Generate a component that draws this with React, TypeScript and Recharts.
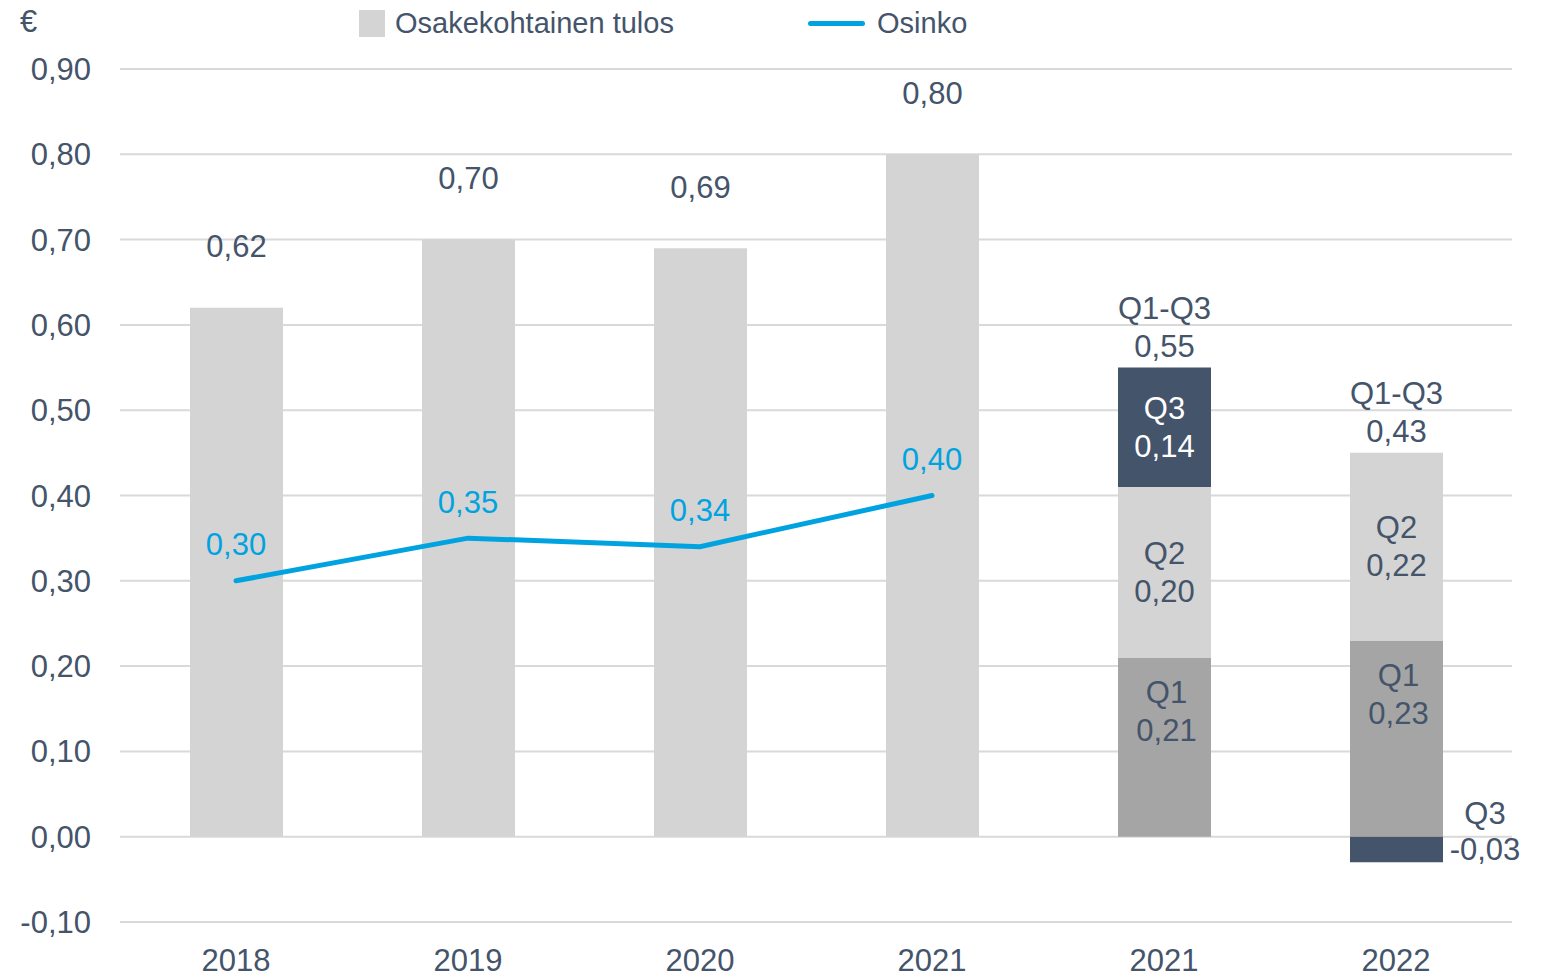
import React from 'react';
import { ComposedChart, Bar, Line, XAxis, YAxis, CartesianGrid, LabelList } from 'recharts';

const categories = ['2018', '2019', '2020', '2021', '2021', '2022'];
const annualEps = [0.62, 0.7, 0.69, 0.8, null, null];
const q1Eps = [null, null, null, null, 0.21, 0.23];
const q2Eps = [null, null, null, null, 0.2, 0.22];
const q3Eps = [null, null, null, null, 0.14, -0.03];
const q1q3Eps = [null, null, null, null, 0.55, 0.43];
const dividend = [0.3, 0.35, 0.34, 0.4, null, null];
const yTicks = [-0.1, 0, 0.1, 0.2, 0.3, 0.4, 0.5, 0.6, 0.7, 0.8, 0.9];

// the Q1-Q3 total sits on top of whichever quarter is the highest positive segment
const data = categories.map((name, i) => {
  const q3 = q3Eps[i];
  return {
    key: i,
    name,
    annual: annualEps[i],
    q1: q1Eps[i],
    q2: q2Eps[i],
    q3,
    totalOnQ2: q3 != null && q3 <= 0 ? q1q3Eps[i] : null,
    totalOnQ3: q3 != null && q3 > 0 ? q1q3Eps[i] : null,
    osinko: dividend[i],
  };
});

const TEXT = '#44546a';
const BLUE = '#00a3e0';
const LIGHT = '#d4d4d4';
const MID = '#a5a5a5';
const DARK = '#44546a';
const FS = 31;
const FONT = '"Liberation Sans", Arial, sans-serif';

const fmt = (v: number) => v.toFixed(2).replace('.', ',');

const box = (props: any) => {
  const vb = props.viewBox ?? props;
  const x = vb.x as number;
  const w = (vb.width ?? 0) as number;
  const h = (vb.height ?? 0) as number;
  const top = Math.min(vb.y, vb.y + h);
  const bottom = Math.max(vb.y, vb.y + h);
  return { cx: x + w / 2, right: x + w, top, bottom };
};

const T = ({ x, y, children, fill = TEXT }: any) => (
  <text x={x} y={y} textAnchor="middle" dominantBaseline="central" fill={fill} fontSize={FS} fontFamily={FONT}>
    {children}
  </text>
);

const TwoLine = ({ x, cy, a, b, fill = TEXT }: any) => (
  <g>
    <T x={x} y={cy - 19} fill={fill}>{a}</T>
    <T x={x} y={cy + 19} fill={fill}>{b}</T>
  </g>
);

const TotalLabel = (props: any) => {
  if (props.value == null) return null;
  const b = box(props);
  return <TwoLine x={b.cx} cy={b.top - 40} a="Q1-Q3" b={fmt(props.value)} />;
};

const AnnualLabel = (props: any) => {
  if (props.value == null) return null;
  const b = box(props);
  return <T x={b.cx} y={b.top - 61}>{fmt(props.value)}</T>;
};

const Q1Label = (props: any) => {
  if (props.value == null) return null;
  const b = box(props);
  return <TwoLine x={b.cx + 2} cy={b.top + 54} a="Q1" b={fmt(props.value)} />;
};

const Q2Label = (props: any) => {
  if (props.value == null) return null;
  const b = box(props);
  return <TwoLine x={b.cx} cy={(b.top + b.bottom) / 2} a="Q2" b={fmt(props.value)} />;
};

const Q3Label = (props: any) => {
  if (props.value == null) return null;
  const b = box(props);
  if (props.value < 0) {
    return (
      <g>
        <T x={b.right + 42} y={b.top - 23}>Q3</T>
        <T x={b.right + 42} y={b.top + 13}>{fmt(props.value)}</T>
      </g>
    );
  }
  return <TwoLine x={b.cx} cy={(b.top + b.bottom) / 2} a="Q3" b={fmt(props.value)} fill="#ffffff" />;
};

const LineLabel = (props: any) => {
  if (props.value == null) return null;
  const vb = props.viewBox ?? props;
  return <T x={vb.x} y={vb.y - 36} fill={BLUE}>{fmt(props.value)}</T>;
};

const XTick = ({ x, y, payload }: any) => (
  <text x={x} y={y + 36} textAnchor="middle" dominantBaseline="central" fill={TEXT} fontSize={FS} fontFamily={FONT}>
    {categories[payload.value]}
  </text>
);

const abs = (s: React.CSSProperties): React.CSSProperties => ({ position: 'absolute', ...s });

export default function App() {
  return (
    <div style={{ position: 'absolute', left: 0, top: 0, width: 1547, height: 975, background: '#fff', fontFamily: FONT }}>
      <ComposedChart width={1547} height={975} data={data} stackOffset="sign" margin={{ top: 69, right: 35, left: 0, bottom: 0 }}>
        <CartesianGrid vertical={false} stroke="#d9d9d9" strokeWidth={2} />
        <XAxis dataKey="key" height={53} axisLine={false} tickLine={false} tickSize={0} tick={<XTick />} interval={0} />
        <YAxis
          width={120}
          domain={[-0.1, 0.9]}
          ticks={yTicks}
          axisLine={false}
          tickLine={false}
          tickSize={0}
          tickMargin={29}
          tickFormatter={(v: number) => fmt(v)}
          tick={{ fill: TEXT, fontSize: FS, fontFamily: FONT }}
        />
        <Bar dataKey="annual" stackId="a" fill={LIGHT} barSize={93} isAnimationActive={false}>
          <LabelList dataKey="annual" content={<AnnualLabel />} />
        </Bar>
        <Bar dataKey="q1" stackId="a" fill={MID} barSize={93} isAnimationActive={false}>
          <LabelList dataKey="q1" content={<Q1Label />} />
        </Bar>
        <Bar dataKey="q2" stackId="a" fill={LIGHT} barSize={93} isAnimationActive={false}>
          <LabelList dataKey="q2" content={<Q2Label />} />
          <LabelList dataKey="totalOnQ2" content={<TotalLabel />} />
        </Bar>
        <Bar dataKey="q3" stackId="a" fill={DARK} barSize={93} isAnimationActive={false}>
          <LabelList dataKey="q3" content={<Q3Label />} />
          <LabelList dataKey="totalOnQ3" content={<TotalLabel />} />
        </Bar>
        <Line
          dataKey="osinko"
          type="linear"
          stroke={BLUE}
          strokeWidth={5}
          strokeLinecap="round"
          dot={false}
          activeDot={false}
          isAnimationActive={false}
        >
          <LabelList dataKey="osinko" content={<LineLabel />} />
        </Line>
      </ComposedChart>
      <div style={abs({ left: 20, top: 5, fontSize: 31, lineHeight: '34px', color: TEXT })}>€</div>
      <div style={abs({ left: 359, top: 10, width: 26, height: 27, background: LIGHT })} />
      <div style={abs({ left: 395, top: 6, fontSize: 29, lineHeight: '34px', color: TEXT, whiteSpace: 'nowrap' })}>
        Osakekohtainen tulos
      </div>
      <div style={abs({ left: 808, top: 21, width: 57, height: 5, borderRadius: 3, background: BLUE })} />
      <div style={abs({ left: 877, top: 6, fontSize: 29, lineHeight: '34px', color: TEXT, whiteSpace: 'nowrap' })}>
        Osinko
      </div>
    </div>
  );
}
